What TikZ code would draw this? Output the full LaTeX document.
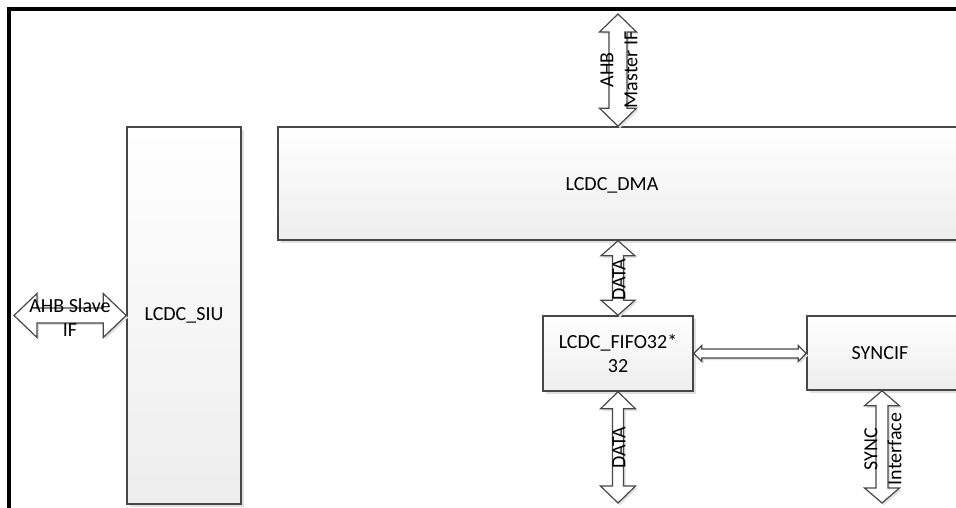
\documentclass[tikz,border=0pt]{standalone}
\usepackage{fontspec}
\setmainfont{Carlito}
\usetikzlibrary{calc,shadows}
\newcommand{\vblock}[5]{%
  \path[barrow] let \p1=(#1), \p2=(#2) in
   (\x1,\y1) -- (\x1+#4,\y1-#5) -- (\x1+#3,\y1-#5) -- (\x1+#3,\y2+#5) -- (\x1+#4,\y2+#5) -- (\x1,\y2)
   -- (\x1-#4,\y2+#5) -- (\x1-#3,\y2+#5) -- (\x1-#3,\y1-#5) -- (\x1-#4,\y1-#5) -- cycle;}
\newcommand{\hblock}[5]{%
  \path[barrow] let \p1=(#1), \p2=(#2) in
   (\x1,\y1) -- (\x1+#5,\y1+#4) -- (\x1+#5,\y1+#3) -- (\x2-#5,\y1+#3) -- (\x2-#5,\y1+#4) -- (\x2,\y1)
   -- (\x2-#5,\y1-#4) -- (\x2-#5,\y1-#3) -- (\x1+#5,\y1-#3) -- (\x1+#5,\y1-#4) -- cycle;}
\begin{document}
\begin{tikzpicture}[x=1pt,y=-1pt,
  txt/.style={font=\fontsize{20}{24}\selectfont, align=center, inner sep=0pt},
  box/.style={rectangle, draw=black!72, line width=1.6pt, top color=white, bottom color=black!7,
    inner sep=0pt, txt,
    drop shadow={shadow xshift=3pt, shadow yshift=-3pt, fill=black!12, opacity=1}},
  barrow/.style={draw=black!72, line width=1.2pt, fill=white,
    drop shadow={shadow xshift=2pt, shadow yshift=-2pt, fill=black!12, opacity=1}},
  lbl/.style={txt, text=black},
  frame/.style={line width=4pt, draw=black}
]
\useasboundingbox (0,0) rectangle (956,508);
\clip (0,0) rectangle (956,508);
\fill[white] (0,0) rectangle (956,508);

% boxes
\node[box, minimum width=114pt, minimum height=377pt] (siu) at (184,315.5) {LCDC\_SIU};
\node[box, minimum width=822pt, minimum height=113pt] (dma) at (689,183.5) {};
\node[box, minimum width=150pt, minimum height=75pt] (fifo) at (618,353.5) {LCDC\_FIFO32*\\32};
\node[box, minimum width=293pt, minimum height=74pt] (sync) at (953.5,353) {};
\node[lbl] (dmat) at (612,185) {LCDC\_DMA};
\node[lbl] (synct) at (880,353) {SYNCIF};

% free ends
\coordinate (mtop) at (618,14);
\coordinate (slvl) at (14,315.5);
\coordinate (dbot) at (618,503);
\coordinate (sbot) at (882,503);

% block arrows
\vblock{mtop}{dma.north -| mtop}{9pt}{18.5pt}{18pt}
\vblock{fifo.north |- dma.south}{fifo.north}{5.5pt}{17pt}{15pt}
\vblock{fifo.south}{dbot}{5.5pt}{17.5pt}{17pt}
\vblock{sbot |- sync.south}{sbot}{6pt}{17.5pt}{15pt}
\hblock{slvl}{siu.west}{7.5pt}{22pt}{23pt}
\hblock{fifo.east}{fifo.east -| sync.west}{4.5pt}{8pt}{8pt}

% arrow labels
\node[lbl, rotate=90] (mlab) at (619,70) {AHB\\Master IF};
\node[lbl, rotate=90] (d1lab) at (619,280) {DATA};
\node[lbl, rotate=90] (d2lab) at (619,448) {DATA};
\node[lbl, rotate=90] (slab) at (883,449) {SYNC\\Interface};
\node[lbl] (alab) at (70,318) {AHB Slave\\IF};

% outer frame
\draw[frame] (9,520) -- (9,9) -- (970,9);
\end{tikzpicture}
\end{document}
